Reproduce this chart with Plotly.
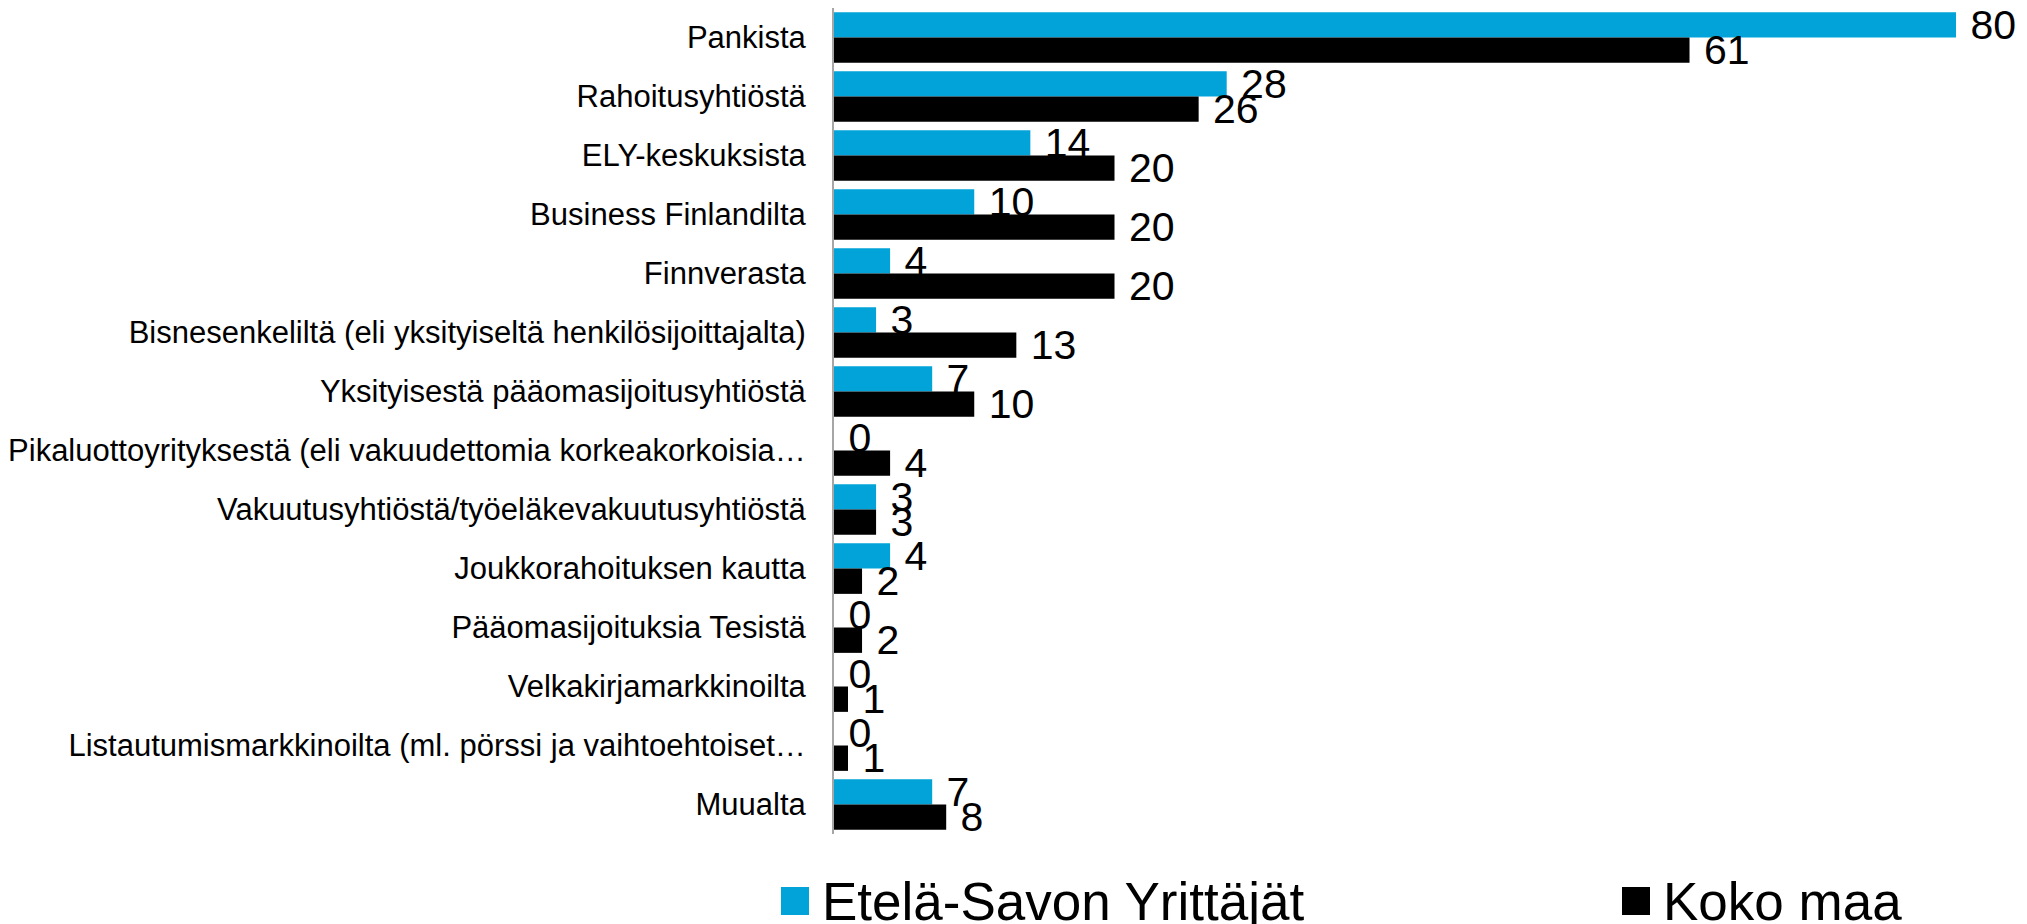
import plotly.graph_objects as go

categories = [
    "Pankista",
    "Rahoitusyhtiöstä",
    "ELY-keskuksista",
    "Business Finlandilta",
    "Finnverasta",
    "Bisnesenkeliltä (eli yksityiseltä henkilösijoittajalta)",
    "Yksityisestä pääomasijoitusyhtiöstä",
    "Pikaluottoyrityksestä (eli vakuudettomia korkeakorkoisia…",
    "Vakuutusyhtiöstä/työeläkevakuutusyhtiöstä",
    "Joukkorahoituksen kautta",
    "Pääomasijoituksia Tesistä",
    "Velkakirjamarkkinoilta",
    "Listautumismarkkinoilta (ml. pörssi ja vaihtoehtoiset…",
    "Muualta",
]
etela_savo = [80, 28, 14, 10, 4, 3, 7, 0, 3, 4, 0, 0, 0, 7]
koko_maa = [61, 26, 20, 20, 20, 13, 10, 4, 3, 2, 2, 1, 1, 8]
series_names = ["Etelä-Savon Yrittäjät", "Koko maa"]
colors = ["#02A3D9", "#000000"]

FONT = "Arial, Liberation Sans, sans-serif"

fig = go.Figure()
for name, vals, col in zip(series_names, [etela_savo, koko_maa], colors):
    fig.add_trace(go.Bar(
        y=categories, x=vals, name=name, orientation="h",
        marker=dict(color=col, line=dict(width=0)),
        texttemplate=" %{x}", textposition="outside",
        textfont=dict(family=FONT, size=41, color="#000000"),
        constraintext="none", cliponaxis=False, showlegend=False,
    ))

# The page body adds an 8 px offset; figure pixel coords = screen coords - 8
FW, FH = 2019, 916
L, R, T, B = 826, 1948, 0, 826
W, H = R - L, B - T

def px(x):
    return (x - L) / W

def py(y):
    return (B - y) / H

shapes = []
annotations = []
legend_items = [(773, series_names[0], colors[0]), (1614, series_names[1], colors[1])]
for mx, name, col in legend_items:
    shapes.append(dict(type="rect", xref="paper", yref="paper",
                       x0=px(mx), x1=px(mx + 28), y0=py(907), y1=py(879),
                       fillcolor=col, line=dict(width=0)))
    annotations.append(dict(text=name, xref="paper", yref="paper",
                            x=px(mx + 39), y=py(893), xanchor="left", yanchor="middle",
                            showarrow=False,
                            font=dict(family=FONT, size=53, color="#000000")))

fig.update_layout(
    width=FW, height=FH,
    margin=dict(l=L, r=FW - R, t=T, b=FH - B, pad=0),
    paper_bgcolor="white", plot_bgcolor="white",
    barmode="group", bargap=0.14, bargroupgap=0,
    font=dict(family=FONT, color="#000000"),
    xaxis=dict(range=[0, 80], visible=False, showgrid=False, zeroline=False),
    yaxis=dict(autorange="reversed", showgrid=False, zeroline=False,
               showline=True, linecolor="#A6A6A6", linewidth=2,
               ticks="", ticklabelstandoff=20,
               tickfont=dict(family=FONT, size=31, color="#000000")),
    shapes=shapes, annotations=annotations,
    showlegend=False,
)

fig.write_html("out.html")
